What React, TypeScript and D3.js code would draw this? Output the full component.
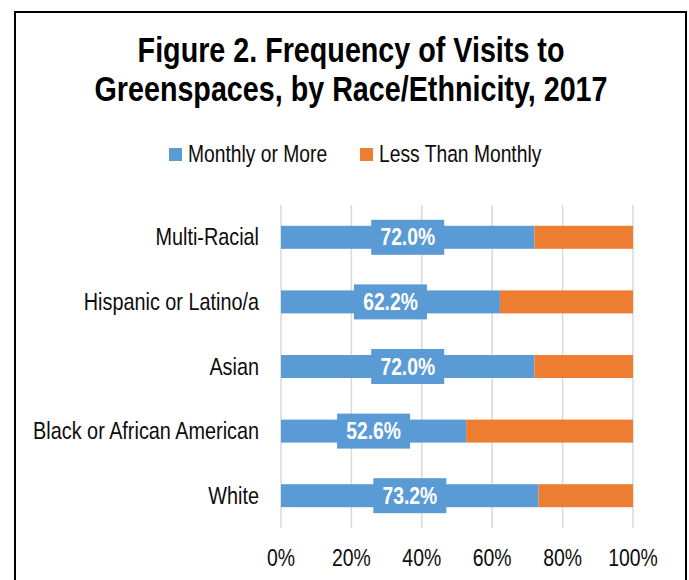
import React from "react";
import * as d3 from "d3";

const categories = ["Multi-Racial", "Hispanic or Latino/a", "Asian", "Black or African American", "White"];
const monthlyOrMore = [72.0, 62.2, 72.0, 52.6, 73.2];
const lessThanMonthly = [28.0, 37.8, 28.0, 47.4, 26.8];
const xTicks = [0, 20, 40, 60, 80, 100];
const titleLines = ["Figure 2. Frequency of Visits to", "Greenspaces, by Race/Ethnicity, 2017"];
const seriesNames = ["Monthly or More", "Less Than Monthly"];

const BLUE = "#5B9BD5";
const ORANGE = "#ED7D31";
const FONT = "'Liberation Sans', Arial, sans-serif";
const NARROW = 0.82;

function NText(props: { x: number; y: number; anchor?: string; size: number; bold?: boolean; fill?: string; children: any }) {
  const { x, y, anchor = "start", size, bold, fill = "#0D0D0D", children } = props;
  return (
    <text
      transform={`translate(${x},${y}) scale(${NARROW},1)`}
      textAnchor={anchor}
      fontSize={size}
      fontWeight={bold ? "bold" : "normal"}
      fill={fill}
      fontFamily={FONT}
    >
      {children}
    </text>
  );
}

export default function App() {
  const W = 689, H = 580;
  const x = d3.scaleLinear().domain([0, 100]).range([281, 633]);
  const y = d3.scaleBand<string>().domain(categories).range([205, 528]).paddingInner(0.644).paddingOuter(0.322);
  const bw = y.bandwidth();
  const stacked = d3.stack<any>().keys(["m", "l"])(categories.map((c, i) => ({ c, m: monthlyOrMore[i], l: lessThanMonthly[i] })));
  const colors = [BLUE, ORANGE];

  return (
    <svg width={W} height={H} style={{ position: "absolute", left: 0, top: 0, background: "#fff" }} fontFamily={FONT}>
      <rect x={0} y={0} width={W} height={H} fill="#fff" />
      <rect x={15} y={12} width={671} height={620} fill="none" stroke="#000" strokeWidth={2} />
      {titleLines.map((t, i) => (
        <NText key={t} x={351} y={62 + i * 39} anchor="middle" bold size={35} fill="#000">{t}</NText>
      ))}
      {seriesNames.map((s, i) => {
        const lx = [169, 360][i];
        return (
          <g key={s}>
            <rect x={lx} y={148} width={13} height={13} fill={colors[i]} />
            <NText x={lx + 19} y={162} size={23.5}>{s}</NText>
          </g>
        );
      })}
      {xTicks.map((t) => (
        <g key={t}>
          <line x1={x(t)} x2={x(t)} y1={205} y2={528} stroke="#D9D9D9" strokeWidth={1.5} />
          <NText x={x(t)} y={566} anchor="middle" size={23.7}>{t}%</NText>
        </g>
      ))}
      {categories.map((c) => (
        <NText key={c} x={259} y={(y(c) as number) + bw / 2 + 8} anchor="end" size={24.2}>{c}</NText>
      ))}
      {stacked.map((s, si) => (
        <g key={si}>
          {s.map((d, i) => (
            <rect key={i} x={x(d[0])} y={y(categories[i]) as number} width={x(d[1]) - x(d[0])} height={bw} fill={colors[si]} />
          ))}
        </g>
      ))}
      {categories.map((c, i) => {
        const cx = (x(0) + x(monthlyOrMore[i])) / 2;
        const cy = (y(c) as number) + bw / 2;
        return (
          <g key={c}>
            <rect x={cx - 36.5} y={cy - 17.5} width={73} height={35} fill={BLUE} />
            <NText x={cx} y={cy + 8} anchor="middle" size={23.5} bold fill="#fff">{monthlyOrMore[i].toFixed(1)}%</NText>
          </g>
        );
      })}
    </svg>
  );
}
